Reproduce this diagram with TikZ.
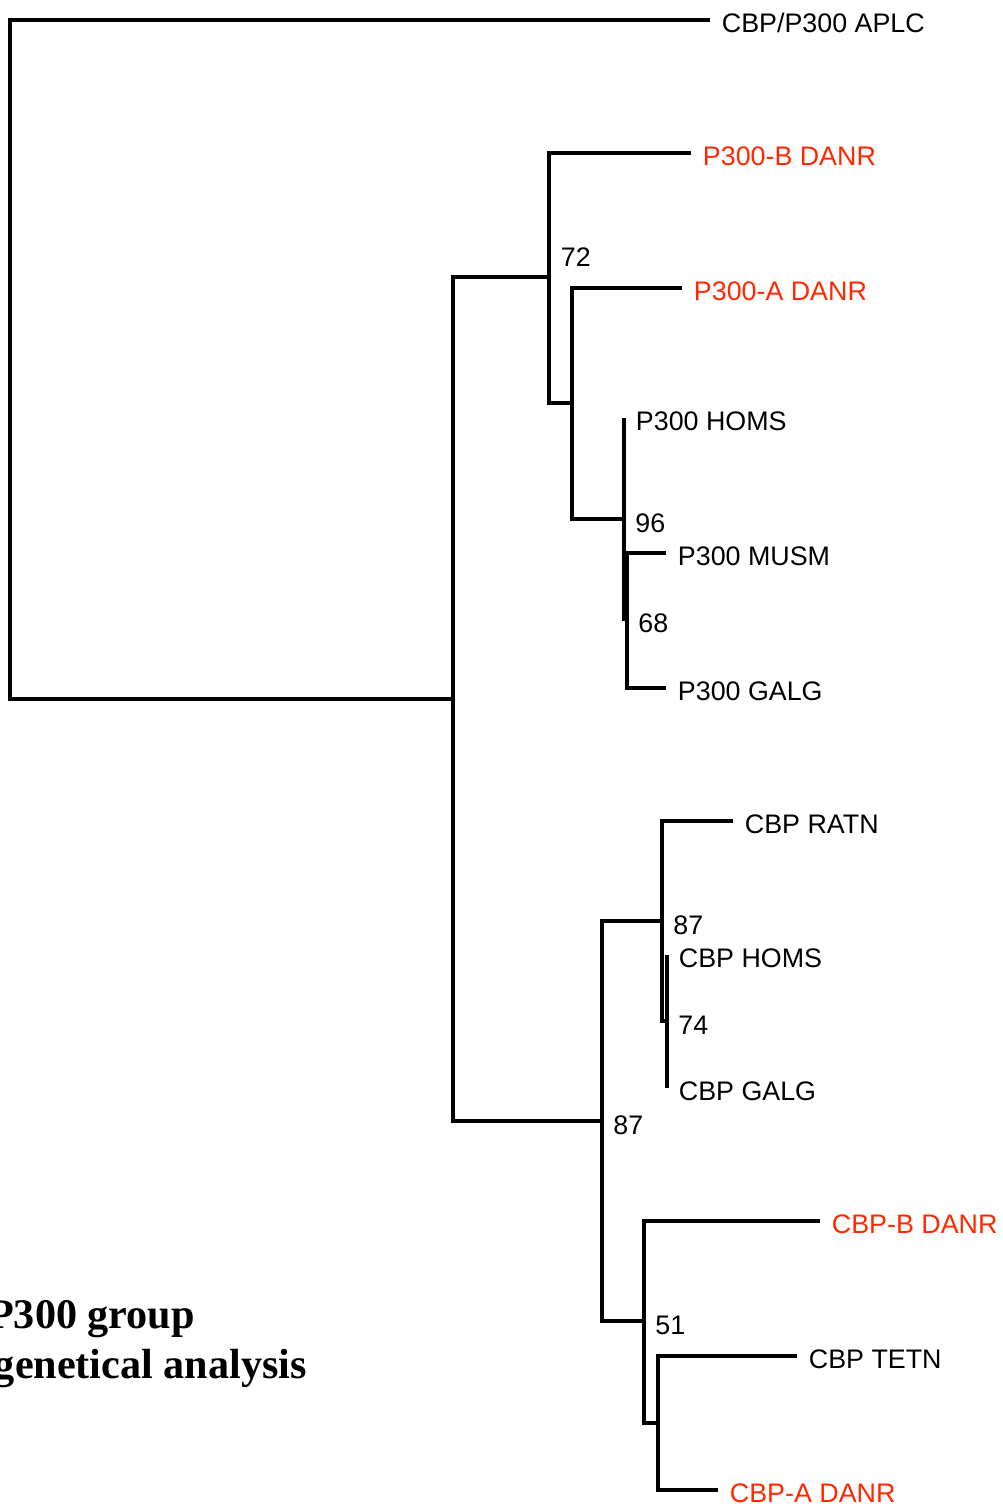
\documentclass[tikz,border=0pt]{standalone}
\usepackage{fontspec}
\setmainfont{Liberation Sans}
\newfontfamily\titlefont{Liberation Serif}
\usetikzlibrary{positioning}
\definecolor{danr}{RGB}{255,40,0}

\begin{document}
\begin{tikzpicture}[
  x=0.03cm, y=-0.03cm,
  font=\fontsize{22.9}{27}\selectfont,
  branch/.style={line width=3.4pt, line join=miter, black},
  leaf/.style={anchor=west, inner xsep=10pt, inner ysep=0pt, text height=21pt, text depth=0pt},
  zebra/.style={leaf, text=danr},
  boot/.style={anchor=west, inner sep=0pt, xshift=9.5pt, yshift=-3.5pt},
  heading/.style={anchor=base east, inner sep=0pt, font=\titlefont\bfseries\fontsize{36}{42}\selectfont},
]
  \useasboundingbox (0,0) rectangle (1002,1506);

  % --- inner nodes ---
  \coordinate (root)    at (10,360);
  \coordinate (ingroup) at (453,699);
  \coordinate (n72)     at (549,277);
  \coordinate (nA)      at (572,403);
  \coordinate (n96)     at (624,519);
  \coordinate (n68)     at (627,619);
  \coordinate (n87b)    at (602,1121);
  \coordinate (n87a)    at (662,921);
  \coordinate (n74)     at (667,1021);
  \coordinate (n51)     at (644,1321);
  \coordinate (nT)      at (658,1423);

  % --- leaves ---
  \node[leaf]  (aplc)     at (710,20)   {CBP/P300 APLC};
  \node[zebra] (p300b)    at (691,153)  {P300-B DANR};
  \node[zebra] (p300a)    at (682,288)  {P300-A DANR};
  \node[leaf]  (p300homs) at (624,418)  {P300 HOMS};
  \node[leaf]  (p300musm) at (666,553)  {P300 MUSM};
  \node[leaf]  (p300galg) at (666,688)  {P300 GALG};
  \node[leaf]  (cbpratn)  at (733,821)  {CBP RATN};
  \node[leaf]  (cbphoms)  at (667,955)  {CBP HOMS};
  \node[leaf]  (cbpgalg)  at (667,1088) {CBP GALG};
  \node[zebra] (cbpb)     at (820,1221) {CBP-B DANR};
  \node[leaf]  (cbptetn)  at (797,1356) {CBP TETN};
  \node[zebra] (cbpa)     at (718,1490) {CBP-A DANR};

  % --- branches ---
  \foreach \p/\c in {root/aplc.west, root/ingroup,
                     ingroup/n72, ingroup/n87b,
                     n72/p300b.west, n72/nA, nA/p300a.west, nA/n96,
                     n96/p300homs.west, n96/n68, n68/p300musm.west, n68/p300galg.west,
                     n87b/n87a, n87b/n51, n87a/cbpratn.west, n87a/n74,
                     n74/cbphoms.west, n74/cbpgalg.west,
                     n51/cbpb.west, n51/nT, nT/cbptetn.west, nT/cbpa.west}
    \draw[branch] (\p) |- (\c);

  % --- bootstrap values ---
  \node[anchor=south west, inner sep=0pt] (b72) at ([xshift=10pt,yshift=9pt]n72) {72};
  \foreach \n/\v in {n96/96, n68/68, n87a/87, n74/74, n87b/87, n51/51}
    \node[boot] (b\n) at (\n) {\v};

  % --- title ---
  \node[heading] (title1) at (195,1328) {P300 group};
  \node[heading] (title2) at (307,1378) {genetical analysis};
\end{tikzpicture}
\end{document}
